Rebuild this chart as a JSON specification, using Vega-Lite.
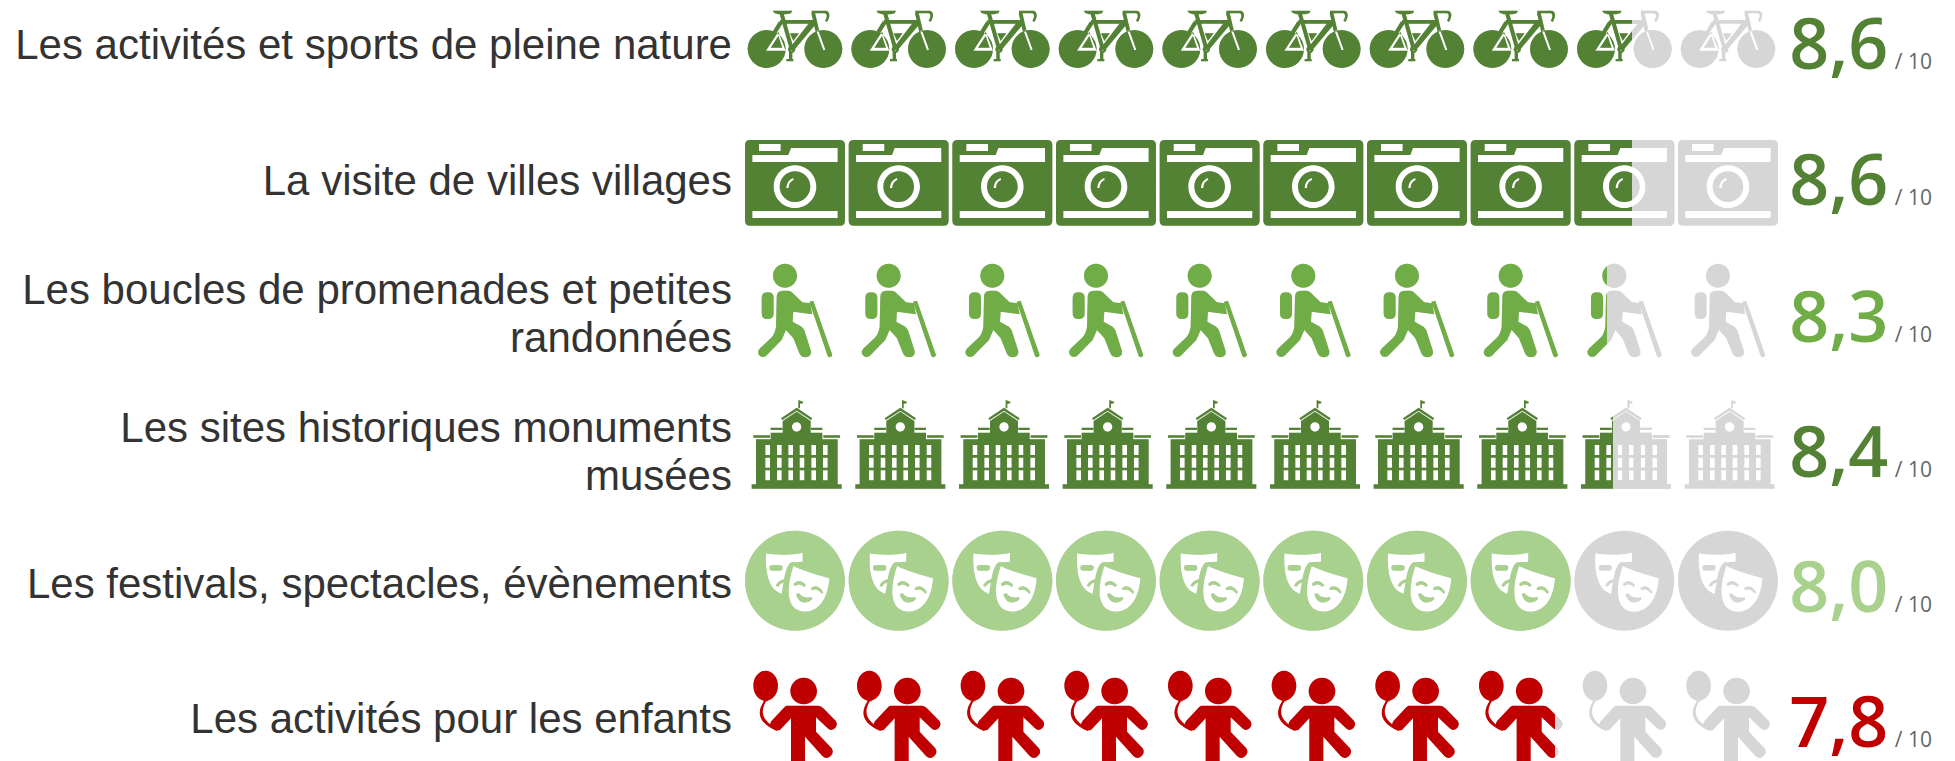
{
"$schema":"https://vega.github.io/schema/vega-lite/v6.json",
"width":1955,"height":761,"padding":0,"autosize":"none","background":"white",
"config":{"view":{"stroke":null}},
"datasets":{
"lignes":[
{"activite":"Les activités et sports de pleine nature","rang":1,"note":"8,6","texte":"Les activités et sports de pleine nature"},
{"activite":"La visite de villes villages","rang":2,"note":"8,6","texte":"La visite de villes villages"},
{"activite":"Les boucles de promenades et petites randonnées","rang":3,"note":"8,3","texte":["Les boucles de promenades et petites","randonnées"]},
{"activite":"Les sites historiques monuments musées","rang":4,"note":"8,4","texte":["Les sites historiques monuments","musées"]},
{"activite":"Les festivals, spectacles, évènements","rang":5,"note":"8,0","texte":"Les festivals, spectacles, évènements"},
{"activite":"Les activités pour les enfants","rang":6,"note":"7,8","texte":"Les activités pour les enfants"}
],
"icones":[
{"activite":"Les activités et sports de pleine nature","rang":1,"note":8.6,"icone":1},{"activite":"Les activités et sports de pleine nature","rang":1,"note":8.6,"icone":2},{"activite":"Les activités et sports de pleine nature","rang":1,"note":8.6,"icone":3},{"activite":"Les activités et sports de pleine nature","rang":1,"note":8.6,"icone":4},{"activite":"Les activités et sports de pleine nature","rang":1,"note":8.6,"icone":5},{"activite":"Les activités et sports de pleine nature","rang":1,"note":8.6,"icone":6},{"activite":"Les activités et sports de pleine nature","rang":1,"note":8.6,"icone":7},{"activite":"Les activités et sports de pleine nature","rang":1,"note":8.6,"icone":8},{"activite":"Les activités et sports de pleine nature","rang":1,"note":8.6,"icone":9},{"activite":"Les activités et sports de pleine nature","rang":1,"note":8.6,"icone":10},
{"activite":"La visite de villes villages","rang":2,"note":8.6,"icone":1},{"activite":"La visite de villes villages","rang":2,"note":8.6,"icone":2},{"activite":"La visite de villes villages","rang":2,"note":8.6,"icone":3},{"activite":"La visite de villes villages","rang":2,"note":8.6,"icone":4},{"activite":"La visite de villes villages","rang":2,"note":8.6,"icone":5},{"activite":"La visite de villes villages","rang":2,"note":8.6,"icone":6},{"activite":"La visite de villes villages","rang":2,"note":8.6,"icone":7},{"activite":"La visite de villes villages","rang":2,"note":8.6,"icone":8},{"activite":"La visite de villes villages","rang":2,"note":8.6,"icone":9},{"activite":"La visite de villes villages","rang":2,"note":8.6,"icone":10},
{"activite":"Les boucles de promenades et petites randonnées","rang":3,"note":8.3,"icone":1},{"activite":"Les boucles de promenades et petites randonnées","rang":3,"note":8.3,"icone":2},{"activite":"Les boucles de promenades et petites randonnées","rang":3,"note":8.3,"icone":3},{"activite":"Les boucles de promenades et petites randonnées","rang":3,"note":8.3,"icone":4},{"activite":"Les boucles de promenades et petites randonnées","rang":3,"note":8.3,"icone":5},{"activite":"Les boucles de promenades et petites randonnées","rang":3,"note":8.3,"icone":6},{"activite":"Les boucles de promenades et petites randonnées","rang":3,"note":8.3,"icone":7},{"activite":"Les boucles de promenades et petites randonnées","rang":3,"note":8.3,"icone":8},{"activite":"Les boucles de promenades et petites randonnées","rang":3,"note":8.3,"icone":9},{"activite":"Les boucles de promenades et petites randonnées","rang":3,"note":8.3,"icone":10},
{"activite":"Les sites historiques monuments musées","rang":4,"note":8.4,"icone":1},{"activite":"Les sites historiques monuments musées","rang":4,"note":8.4,"icone":2},{"activite":"Les sites historiques monuments musées","rang":4,"note":8.4,"icone":3},{"activite":"Les sites historiques monuments musées","rang":4,"note":8.4,"icone":4},{"activite":"Les sites historiques monuments musées","rang":4,"note":8.4,"icone":5},{"activite":"Les sites historiques monuments musées","rang":4,"note":8.4,"icone":6},{"activite":"Les sites historiques monuments musées","rang":4,"note":8.4,"icone":7},{"activite":"Les sites historiques monuments musées","rang":4,"note":8.4,"icone":8},{"activite":"Les sites historiques monuments musées","rang":4,"note":8.4,"icone":9},{"activite":"Les sites historiques monuments musées","rang":4,"note":8.4,"icone":10},
{"activite":"Les festivals, spectacles, évènements","rang":5,"note":8.0,"icone":1},{"activite":"Les festivals, spectacles, évènements","rang":5,"note":8.0,"icone":2},{"activite":"Les festivals, spectacles, évènements","rang":5,"note":8.0,"icone":3},{"activite":"Les festivals, spectacles, évènements","rang":5,"note":8.0,"icone":4},{"activite":"Les festivals, spectacles, évènements","rang":5,"note":8.0,"icone":5},{"activite":"Les festivals, spectacles, évènements","rang":5,"note":8.0,"icone":6},{"activite":"Les festivals, spectacles, évènements","rang":5,"note":8.0,"icone":7},{"activite":"Les festivals, spectacles, évènements","rang":5,"note":8.0,"icone":8},{"activite":"Les festivals, spectacles, évènements","rang":5,"note":8.0,"icone":9},{"activite":"Les festivals, spectacles, évènements","rang":5,"note":8.0,"icone":10},
{"activite":"Les activités pour les enfants","rang":6,"note":7.8,"icone":1},{"activite":"Les activités pour les enfants","rang":6,"note":7.8,"icone":2},{"activite":"Les activités pour les enfants","rang":6,"note":7.8,"icone":3},{"activite":"Les activités pour les enfants","rang":6,"note":7.8,"icone":4},{"activite":"Les activités pour les enfants","rang":6,"note":7.8,"icone":5},{"activite":"Les activités pour les enfants","rang":6,"note":7.8,"icone":6},{"activite":"Les activités pour les enfants","rang":6,"note":7.8,"icone":7},{"activite":"Les activités pour les enfants","rang":6,"note":7.8,"icone":8},{"activite":"Les activités pour les enfants","rang":6,"note":7.8,"icone":9},{"activite":"Les activités pour les enfants","rang":6,"note":7.8,"icone":10}
]
},
"encoding":{
"y":{"field":"rang","type":"quantitative","axis":null,"scale":{"domain":[1,2,3,4,5,6],"range":[42,178,315,450,585,720]}}
},
"layer":[
{"data":{"name":"icones"},
"encoding":{
"x":{"field":"icone","type":"quantitative","axis":null,"scale":{"domain":[-6.669,12.19],"nice":false,"zero":false}},
"shape":{"field":"activite","type":"nominal","legend":null,"scale":{"domain":["Les activités et sports de pleine nature","La visite de villes villages","Les boucles de promenades et petites randonnées","Les sites historiques monuments musées","Les festivals, spectacles, évènements","Les activités pour les enfants"],
"range":[
"M-142 21A57 57 0 1 1 -28 21A57 57 0 1 1 -142 21ZM28 21A57 57 0 1 1 142 21A57 57 0 1 1 28 21ZM-87 26L-28 26L-50 -31ZM-73 17L-50 -18L-38 17ZM64 -33L85 25L91 23L70 -35ZM-67 -94L-8 -94L-12 -86L-25 -83L-50 -83L-62 -87ZM-46 -83L-34 -85L-3 23L-15 25ZM-45 -66L60 -66L60 -55L-45 -55ZM46 -62L61 -52L-5 27L-16 18ZM-48 -62L-38 -54L-56 -26L-66 -33ZM49 -86L60 -88L73 -32L62 -30ZM50 -94L92 -94C104 -94 108 -78 96 -60L90 -64C97 -74 97 -85 89 -86L50 -86ZM-15 -26L12 -26L-5 -3ZM-21 22A11 11 0 1 1 1 22A11 11 0 1 1 -21 22ZM-14 22A4 4 0 1 0 -6 22A4 4 0 1 0 -14 22ZM-18 29L-8 29L-8 51L-5 51L-5 58L-26 58L-26 51L-18 51Z",
"M-135 -114L135 -114Q150 -114 150 -99L150 128Q150 143 135 143L-135 143Q-150 143 -150 128L-150 -99Q-150 -114 -135 -114ZM-108 -102L-108 -81L-43 -81L-43 -102ZM-128 -69L-128 -48L128 -48L128 -90L-12 -90L-20 -69ZM-128 99L-128 120L128 120L128 99ZM-64 26A64 64 0 1 0 64 26A64 64 0 1 0 -64 26ZM-46 26A46 46 0 1 1 46 26A46 46 0 1 1 -46 26ZM-19 30C-18 18 -13 9 -4 7L-5 0C-15 2 -26 15 -26 30Z",
"M-66 -118A36 36 0 1 1 6 -118A36 36 0 1 1 -66 -118ZM-100 -52Q-100 -68 -82 -68Q-64 -68 -64 -52L-64 -4Q-64 12 -82 12Q-100 12 -100 -4ZM-55 -55Q-55 -73 -37 -73L-22 -73Q-10 -72 -3 -62L22 -38L45 -35L52 -2L-5 -10L-7 20L20 35Q28 42 31 55L48 108Q50 125 32 127Q18 127 13 115L-5 70L-27 45L-40 75L-87 123Q-100 130 -108 120Q-115 110 -105 100L-70 67Q-60 55 -57 35ZM43 -40L55 -43L112 120Q110 127 104 127Q100 127 98 123Z",
"M10 -145L15 -145L15 -125L10 -125ZM10 -150L24 -145L24 -140L10 -138ZM-42 -95L5 -127L52 -95L48 -90L5 -118L-38 -90ZM-37 -87L5 -115L47 -87L47 -52L82 -52L82 -32L-73 -32L-73 -52L-37 -52ZM-73 -67L-38 -67L-38 -60L-73 -60ZM48 -67L82 -67L82 -60L48 -60ZM-125 -44L-75 -44L-75 -37L-125 -37ZM85 -44L135 -44L135 -37L85 -37ZM-117 -32L128 -32L128 103L-117 103ZM-130 103L140 103L140 116L-130 116ZM-9 -69A14 14 0 1 0 19 -69A14 14 0 1 0 -9 -69ZM-89 -15V15H-75V-15ZM-54 -15V15H-40V-15ZM-20 -15V15H-6V-15ZM14 -15V15H28V-15ZM49 -15V15H63V-15ZM84 -15V15H98V-15ZM-89 23V53H-75V23ZM-54 23V53H-40V23ZM-20 23V53H-6V23ZM14 23V53H28V23ZM49 23V53H63V23ZM84 23V53H98V23ZM-89 61V91H-75V61ZM-54 61V91H-40V61ZM-20 61V91H-6V61ZM14 61V91H28V61ZM49 61V91H63V61ZM84 61V91H98V61Z",
"M-150 -13A150 150 0 1 1 150 -13A150 150 0 1 1 -150 -13ZM-87 -95C-90 -25 -75 15 -40 27L-33 -15C-28 -45 -20 -65 -10 -68L23 -70L23 -97C-5 -90 -55 -88 -87 -95ZM-77 -52Q-77 -60 -68 -60L-46 -60Q-37 -60 -37 -52Q-37 -43 -46 -43L-68 -43Q-77 -43 -77 -52ZM-58 2Q-50 -14 -32 -18L-30 -8Q-44 -6 -50 5ZM-5 -57C-35 35 -15 80 30 80C75 80 100 35 103 -20C70 -30 30 -40 -5 -57ZM-5 -3Q12 -22 33 0L28 6Q14 -8 0 4ZM47 10Q68 -7 85 22L80 26Q65 8 52 16ZM3 27L12 25Q25 42 50 36L52 42Q40 55 22 52Q8 47 3 27Z",
"M-125 -103A37 45 0 1 1 -51 -103A37 45 0 1 1 -125 -103ZM-96 -56L-88 -66L-80 -56ZM-86 -57C-103 -30 -105 0 -52 27L-55 33C-118 5 -112 -30 -92 -58ZM-14 -87A40 40 0 1 1 66 -87A40 40 0 1 1 -14 -87ZM-25 -43L70 -43Q78 -43 85 -35L122 2Q130 15 120 25Q108 35 98 25L63 -8L63 35L110 85Q118 97 107 108Q95 120 82 108L30 50L30 160L-12 160L-12 -5L-45 30Q-60 35 -72 22Q-78 12 -70 2L-32 -38Q-28 -43 -25 -43Z"
]}}
},
"layer":[
{"mark":{"type":"point","filled":true,"opacity":1,"size":0.4444,"color":"#D6D6D6"}},
{"transform":[{"filter":"datum.icone <= datum.note"}],
"mark":{"type":"point","filled":true,"opacity":1,"size":0.4444},
"encoding":{"color":{"field":"activite","type":"nominal","legend":null,"scale":{"domain":["Les activités et sports de pleine nature","La visite de villes villages","Les boucles de promenades et petites randonnées","Les sites historiques monuments musées","Les festivals, spectacles, évènements","Les activités pour les enfants"],"range":["#548235","#548235","#70AD47","#548235","#A9D18E","#C00000"]}}}},
{"transform":[{"filter":"datum.rang == 1 && datum.icone == 9"}],
"mark":{"type":"point","filled":true,"opacity":1,"size":0.4444,"fill":{"gradient":"linear","x1":0,"y1":0,"x2":1,"y2":0,"stops":[{"offset":0,"color":"#548235"},{"offset":0.577,"color":"#548235"},{"offset":0.577,"color":"#D6D6D6"},{"offset":1,"color":"#D6D6D6"}]}}},
{"transform":[{"filter":"datum.rang == 2 && datum.icone == 9"}],
"mark":{"type":"point","filled":true,"opacity":1,"size":0.4444,"fill":{"gradient":"linear","x1":0,"y1":0,"x2":1,"y2":0,"stops":[{"offset":0,"color":"#548235"},{"offset":0.58,"color":"#548235"},{"offset":0.58,"color":"#D6D6D6"},{"offset":1,"color":"#D6D6D6"}]}}},
{"transform":[{"filter":"datum.rang == 3 && datum.icone == 9"}],
"mark":{"type":"point","filled":true,"opacity":1,"size":0.4444,"fill":{"gradient":"linear","x1":0,"y1":0,"x2":1,"y2":0,"stops":[{"offset":0,"color":"#70AD47"},{"offset":0.264,"color":"#70AD47"},{"offset":0.264,"color":"#D6D6D6"},{"offset":1,"color":"#D6D6D6"}]}}},
{"transform":[{"filter":"datum.rang == 4 && datum.icone == 9"}],
"mark":{"type":"point","filled":true,"opacity":1,"size":0.4444,"fill":{"gradient":"linear","x1":0,"y1":0,"x2":1,"y2":0,"stops":[{"offset":0,"color":"#548235"},{"offset":0.359,"color":"#548235"},{"offset":0.359,"color":"#D6D6D6"},{"offset":1,"color":"#D6D6D6"}]}}},
{"transform":[{"filter":"datum.rang == 6 && datum.icone == 8"}],
"mark":{"type":"point","filled":true,"opacity":1,"size":0.4444,"fill":{"gradient":"linear","x1":0,"y1":0,"x2":1,"y2":0,"stops":[{"offset":0,"color":"#C00000"},{"offset":0.91,"color":"#C00000"},{"offset":0.91,"color":"#D6D6D6"},{"offset":1,"color":"#D6D6D6"}]}}}
]},
{"data":{"name":"lignes"},
"encoding":{"x":{"datum":0.392,"type":"quantitative"}},
"layer":[
{"transform":[{"filter":"datum.rang <= 2"}],"mark":{"type":"text","align":"right","baseline":"middle","font":"Liberation Sans","fontSize":42,"lineHeight":48,"color":"#333333","dy":4},"encoding":{"text":{"field":"texte"}}},
{"transform":[{"filter":"datum.rang == 3"}],"mark":{"type":"text","align":"right","baseline":"middle","font":"Liberation Sans","fontSize":42,"lineHeight":48,"color":"#333333","dy":-24},"encoding":{"text":{"field":"texte"}}},
{"transform":[{"filter":"datum.rang == 4"}],"mark":{"type":"text","align":"right","baseline":"middle","font":"Liberation Sans","fontSize":42,"lineHeight":48,"color":"#333333","dy":-21},"encoding":{"text":{"field":"texte"}}},
{"transform":[{"filter":"datum.rang >= 5"}],"mark":{"type":"text","align":"right","baseline":"middle","font":"Liberation Sans","fontSize":42,"lineHeight":48,"color":"#333333"},"encoding":{"text":{"field":"texte"}}},
{"mark":{"type":"text","align":"left","baseline":"alphabetic","font":"Open Sans","fontSize":70,"fontWeight":600,"dy":27},
"encoding":{"x":{"datum":10.59,"type":"quantitative"},"text":{"field":"note"},"color":{"field":"activite","type":"nominal","legend":null}}},
{"mark":{"type":"text","align":"left","baseline":"alphabetic","font":"Open Sans","fontSize":21,"dy":27,"color":"#666666"},
"encoding":{"x":{"datum":11.61,"type":"quantitative"},"text":{"value":"/ 10"}}}
]}
]
}
